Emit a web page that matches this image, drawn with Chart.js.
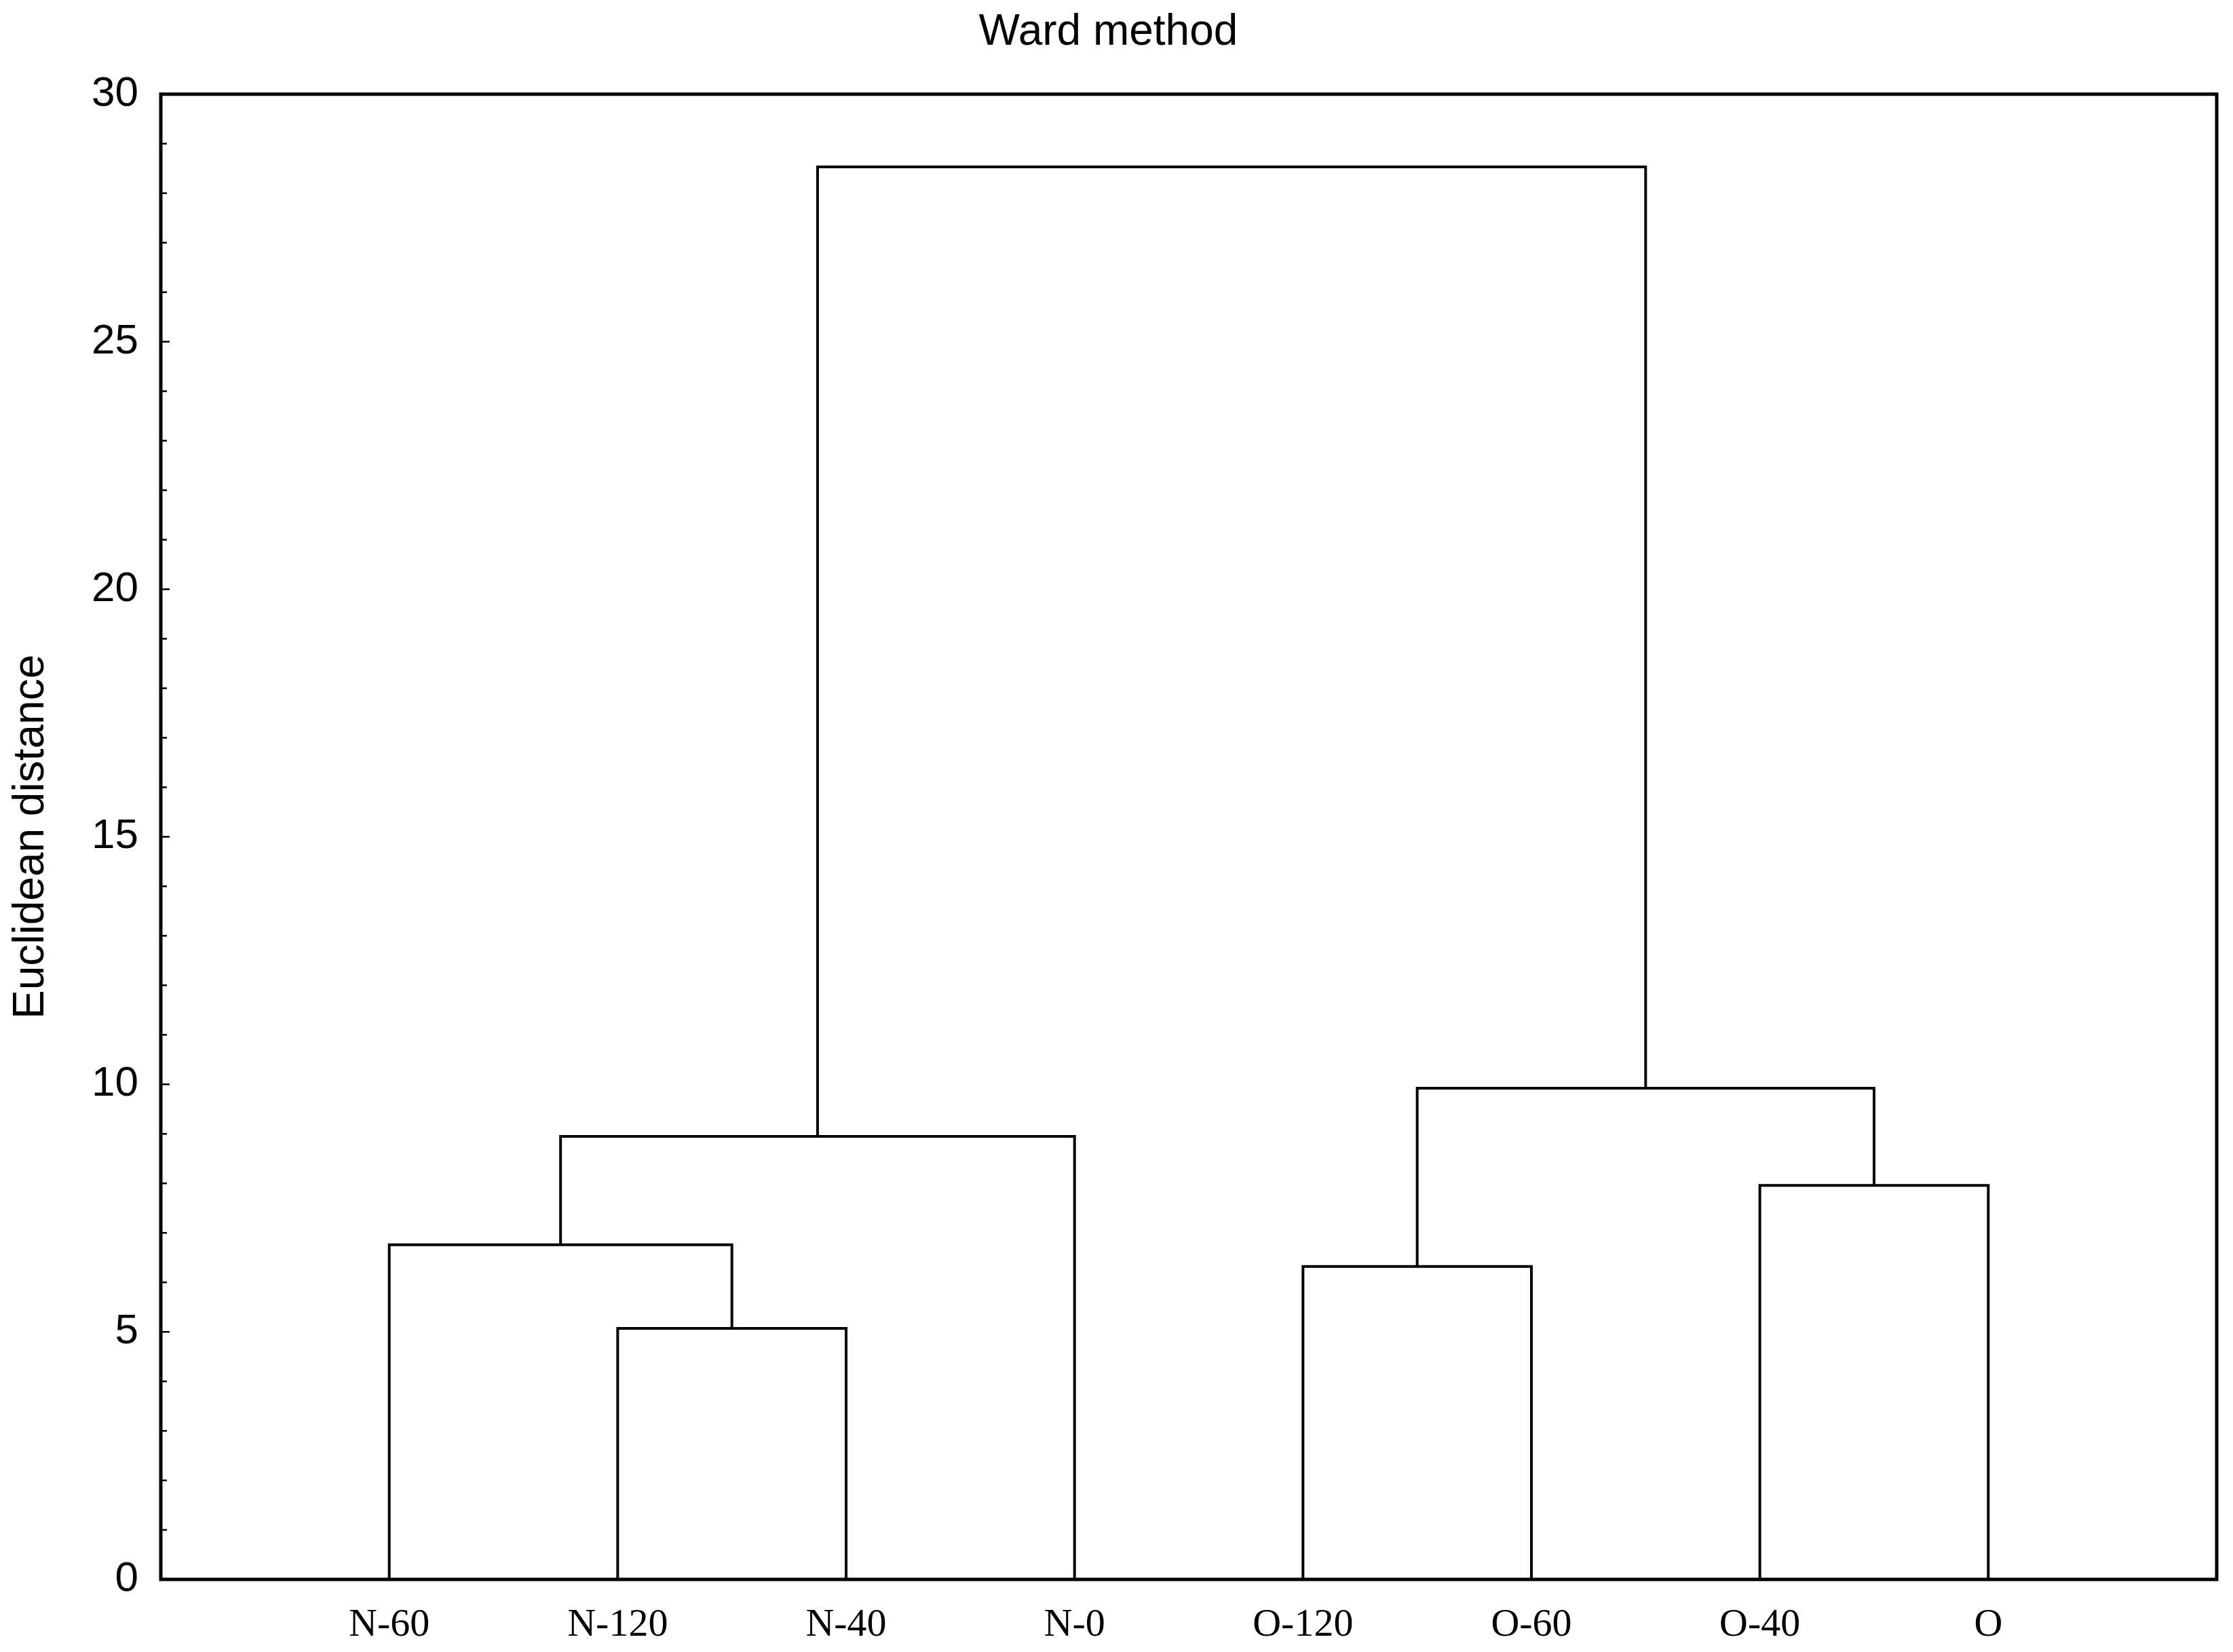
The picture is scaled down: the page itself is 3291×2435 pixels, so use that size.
<!DOCTYPE html>
<html>
<head>
  <title>Ward method dendrogram</title>
  <script src="https://cdn.jsdelivr.net/npm/chart.js"></script>
  <style>
    body { margin: 0; background: #fff; }
  </style>
</head>
<body>
  <canvas id="dendro" width="3291" height="2435"></canvas>

  <script>
    // leaves in plot order, left to right
    const leafLabels = ['N-60', 'N-120', 'N-40', 'N-0', 'O-120', 'O-60', 'O-40', 'O'];

    // merges, linkage style: node 8 is the first merge, 9 the second, ...
    const mergeA = [1, 0, 4, 6, 9, 10, 12];
    const mergeB = [2, 8, 5, 7, 3, 11, 13];
    const mergeHeight = [5.07, 6.76, 6.32, 7.96, 8.95, 9.92, 28.53];

    const yTickValues = [0, 5, 10, 15, 20, 25, 30];

    // x position and height of every node
    const nodeX = leafLabels.map((_, i) => i + 1);
    const nodeH = leafLabels.map(() => 0);
    mergeA.forEach((a, k) => {
      const b = mergeB[k];
      nodeX.push((nodeX[a] + nodeX[b]) / 2);
      nodeH.push(mergeHeight[k]);
    });

    const datasets = mergeA.map((a, k) => {
      const b = mergeB[k];
      return {
        data: [
          { x: nodeX[a], y: nodeH[a] },
          { x: nodeX[a], y: mergeHeight[k] },
          { x: nodeX[b], y: mergeHeight[k] },
          { x: nodeX[b], y: nodeH[b] }
        ],
        showLine: true,
        borderColor: '#000',
        borderWidth: 4,
        pointRadius: 0,
        tension: 0
      };
    });

    // frame around the plot and small inward ticks on the y axis
    const framePlugin = {
      id: 'frame',
      afterDraw(chart) {
        const { ctx, chartArea } = chart;
        const y = chart.scales.y;
        ctx.save();
        ctx.strokeStyle = '#000';
        ctx.lineWidth = 2.5;
        for (let v = y.min; v <= y.max; v++) {
          const py = y.getPixelForValue(v);
          const len = v % 5 === 0 ? 13 : 9;
          ctx.beginPath();
          ctx.moveTo(chartArea.left, py);
          ctx.lineTo(chartArea.left + len, py);
          ctx.stroke();
        }
        ctx.lineWidth = 5;
        ctx.strokeRect(chartArea.left, chartArea.top,
          chartArea.right - chartArea.left, chartArea.bottom - chartArea.top);
        ctx.restore();
      }
    };

    Chart.defaults.color = '#000';
    Chart.defaults.font.family = "'Liberation Sans', Arial, sans-serif";

    new Chart(document.getElementById('dendro'), {
      type: 'scatter',
      data: { datasets },
      plugins: [framePlugin],
      options: {
        responsive: false,
        animation: false,
        devicePixelRatio: 1,
        layout: { padding: { left: 0, right: 24, top: 0, bottom: 0 } },
        plugins: {
          legend: { display: false },
          tooltip: { enabled: false },
          title: {
            display: true,
            text: 'Ward method',
            font: { size: 64, weight: 'normal' },
            padding: { top: 10, bottom: 52 }
          }
        },
        scales: {
          x: {
            type: 'linear',
            min: 0,
            max: leafLabels.length + 1,
            grid: { display: false },
            border: { display: false },
            afterBuildTicks(scale) {
              scale.ticks = leafLabels.map((_, i) => ({ value: i + 1 }));
            },
            afterFit(scale) { scale.height = 107; },
            ticks: {
              autoSkip: false,
              maxRotation: 0,
              padding: 25,
              font: { family: "'Liberation Serif', 'Times New Roman', serif", size: 58 },
              callback: (v) => leafLabels[v - 1]
            }
          },
          y: {
            min: 0,
            max: 30,
            grid: { display: false },
            border: { display: false },
            afterBuildTicks(scale) {
              scale.ticks = yTickValues.map(v => ({ value: v }));
            },
            afterFit(scale) { scale.width = 237; },
            ticks: {
              padding: 25,
              font: { size: 62 }
            },
            title: {
              display: true,
              text: 'Euclidean distance',
              font: { size: 64 },
              padding: { top: 8, bottom: 0 }
            }
          }
        }
      }
    });
  </script>
</body>
</html>
